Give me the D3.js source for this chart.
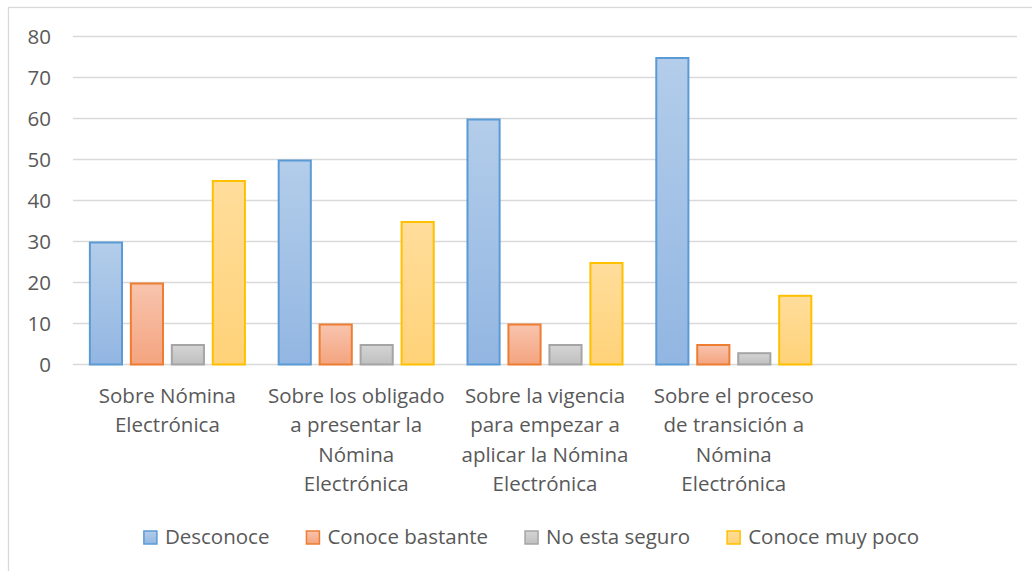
<!DOCTYPE html>
<html>
<head>
<meta charset="utf-8">
<script src="https://cdn.jsdelivr.net/npm/d3@7"></script>
<style>
  html, body { margin: 0; padding: 0; background: #ffffff; overflow: hidden; }
  svg { display: block; }
  text { font-family: "Open Sans", "Noto Sans", sans-serif; fill: #595959; }
</style>
</head>
<body>
<svg id="chart" width="1032" height="571"></svg>
<script>
// ---- data ----
const categories = [
  "Sobre Nómina Electrónica",
  "Sobre los obligado a presentar la Nómina Electrónica",
  "Sobre la vigencia para empezar a aplicar la Nómina Electrónica",
  "Sobre el proceso de transición a Nómina Electrónica"
];
const categoryLines = [
  ["Sobre Nómina", "Electrónica"],
  ["Sobre los obligado", "a presentar la", "Nómina", "Electrónica"],
  ["Sobre la vigencia", "para empezar a", "aplicar la Nómina", "Electrónica"],
  ["Sobre el proceso", "de transición a", "Nómina", "Electrónica"]
];
const seriesNames = ["Desconoce", "Conoce bastante", "No esta seguro", "Conoce muy poco"];
const desconoce = [30, 50, 60, 75];
const conoceBastante = [20, 10, 10, 5];
const noEstaSeguro = [5, 5, 5, 3];
const conoceMuyPoco = [45, 35, 25, 17];
const yTicks = [0, 10, 20, 30, 40, 50, 60, 70, 80];

const seriesValues = [desconoce, conoceBastante, noEstaSeguro, conoceMuyPoco];
const strokeColors = ["#5b9bd5", "#ed7d31", "#a5a5a5", "#ffc000"];
const gradTop = ["#b3cdea", "#f8c4ae", "#d5d5d5", "#ffdd9b"];
const gradBottom = ["#92b6e2", "#f4a47f", "#bfbfbf", "#ffd278"];

// ---- layout ----
const svg = d3.select("#chart");
const fontSize = 20.5;
const plot = { left: 73, right: 1017, top: 36.5, bottom: 364.5 };

// border of chart area
svg.append("rect")
  .attr("x", 8.5).attr("y", 7.5)
  .attr("width", 1100).attr("height", 700)
  .attr("fill", "none").attr("stroke", "#d9d9d9").attr("stroke-width", 1.3);

const xDomain = categories.concat([""]); // empty trailing slot as in source
const x = d3.scaleBand().domain(xDomain).range([plot.left, plot.right]).padding(0);
const y = d3.scaleLinear().domain([0, 80]).range([plot.bottom, plot.top]);

const bw = x.bandwidth();
const overlapGap = 0.2, gapWidth = 0.93;
const barW = bw / (4 + 3 * overlapGap + gapWidth);
const x1 = d3.scaleBand().domain(seriesNames)
  .range([barW * gapWidth / 2, bw - barW * gapWidth / 2])
  .paddingInner(overlapGap / (1 + overlapGap)).paddingOuter(0);

// gradients
const defs = svg.append("defs");
seriesNames.forEach((s, i) => {
  const g = defs.append("linearGradient").attr("id", "g" + i)
    .attr("x1", 0).attr("y1", 0).attr("x2", 0).attr("y2", 1);
  g.append("stop").attr("offset", "0%").attr("stop-color", gradTop[i]);
  g.append("stop").attr("offset", "100%").attr("stop-color", gradBottom[i]);
});

// gridlines
svg.append("g").selectAll("line").data(yTicks).join("line")
  .attr("x1", plot.left).attr("x2", plot.right)
  .attr("y1", d => y(d)).attr("y2", d => y(d))
  .attr("stroke", "#d9d9d9").attr("stroke-width", 1.4);

// y axis labels
const yAxis = d3.axisLeft(y).tickValues(yTicks).tickSize(0).tickPadding(0);
const yG = svg.append("g").attr("transform", `translate(${51},0)`).call(yAxis);
yG.select(".domain").remove();
yG.selectAll("text")
  .style("font-size", fontSize + "px")
  .style("font-family", '"Open Sans", sans-serif')
  .attr("fill", "#595959").attr("dy", "0.36em");

// bars
seriesNames.forEach((s, i) => {
  svg.append("g").selectAll("rect").data(seriesValues[i]).join("rect")
    .attr("x", (d, j) => x(categories[j]) + x1(s) + 1)
    .attr("y", d => y(d) + 1)
    .attr("width", x1.bandwidth() - 2)
    .attr("height", d => y(0) - y(d) - 1)
    .attr("fill", `url(#g${i})`)
    .attr("stroke", strokeColors[i])
    .attr("stroke-width", 2);
});

// category labels
const lineH = 29.4;
const catG = svg.append("g");
categories.forEach((c, j) => {
  const t = catG.append("text")
    .attr("text-anchor", "middle")
    .attr("x", x(c) + bw / 2)
    .attr("y", 403)
    .style("font-size", fontSize + "px");
  categoryLines[j].forEach((ln, k) => {
    t.append("tspan").attr("x", x(c) + bw / 2).attr("y", 403 + k * lineH).text(ln);
  });
});

// legend
const legend = svg.append("g");
const sw = 13, swGap = 7, itemGap = 36;
let items = [];
let cx = 0;
seriesNames.forEach((s, i) => {
  const g = legend.append("g");
  g.append("rect").attr("x", cx + 1).attr("y", 531).attr("width", sw).attr("height", sw)
    .attr("fill", `url(#g${i})`).attr("stroke", strokeColors[i]).attr("stroke-width", 1.5);
  const t = g.append("text").attr("x", cx + sw + 2 + swGap).attr("y", 544)
    .style("font-size", fontSize + "px").text(s);
  const w = t.node().getComputedTextLength();
  cx += sw + 2 + swGap + w + itemGap;
});
const totalW = cx - itemGap;
legend.attr("transform", `translate(${531 - totalW / 2},0)`);
</script>
</body>
</html>
